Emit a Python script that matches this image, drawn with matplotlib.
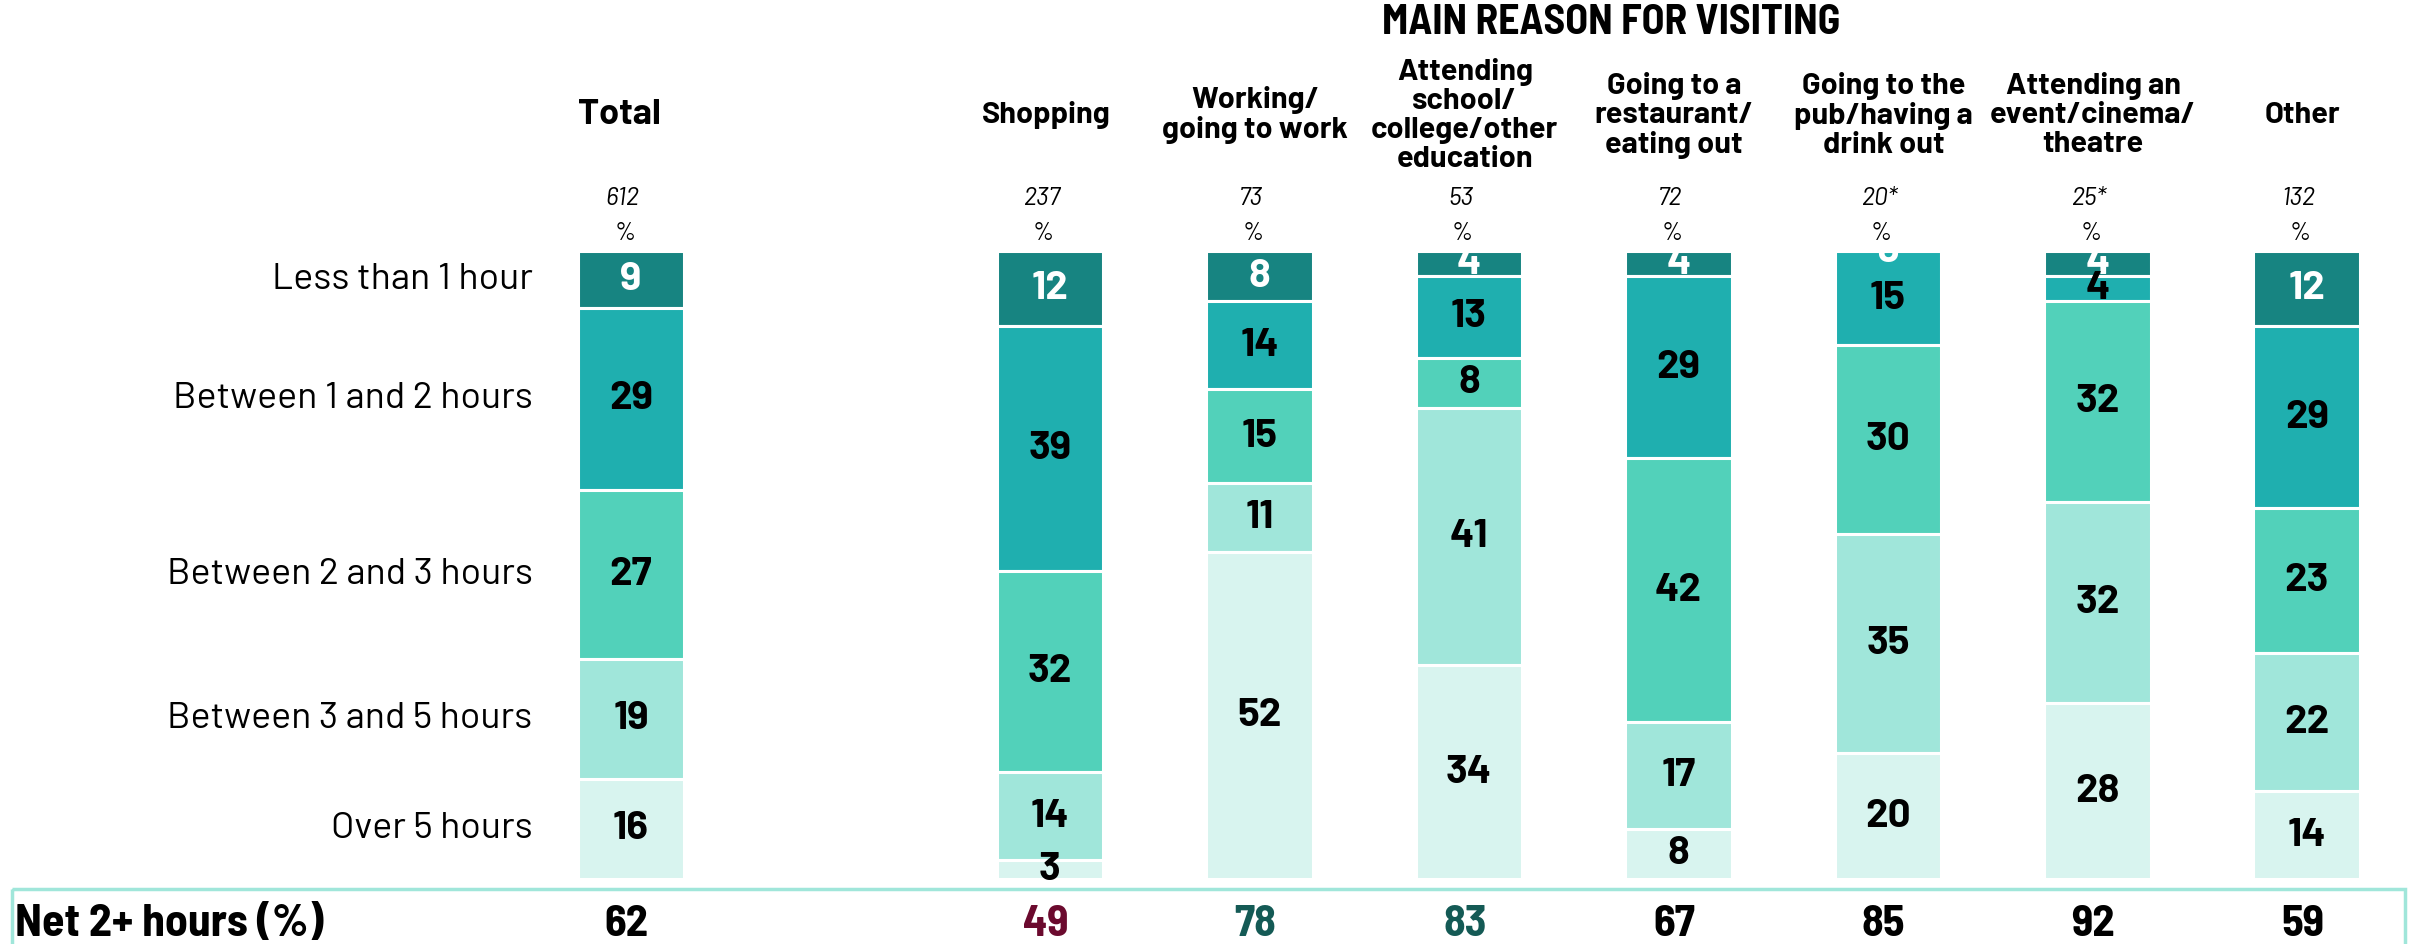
import numpy as np
import matplotlib
matplotlib.use('Agg')
import matplotlib.pyplot as plt
from matplotlib import font_manager
from matplotlib.patches import Rectangle

# data (top to bottom of each bar)
columns = ['Total', 'Shopping', 'Working/\ngoing to work', 'Attending\nschool/\ncollege/other\neducation',
           'Going to a\nrestaurant/\neating out', 'Going to the\npub/having a\ndrink out',
           'Attending an\nevent/cinema/\ntheatre', 'Other']
bases = ['612', '237', '73', '53', '72', '20*', '25*', '132']
categories = ['Less than 1 hour', 'Between 1 and 2 hours', 'Between 2 and 3 hours',
              'Between 3 and 5 hours', 'Over 5 hours']
less_1h = [9, 12, 8, 4, 4, 0, 4, 12]
h_1_2 = [29, 39, 14, 13, 29, 15, 4, 29]
h_2_3 = [27, 32, 15, 8, 42, 30, 32, 23]
h_3_5 = [19, 14, 11, 41, 17, 35, 32, 22]
over_5h = [16, 3, 52, 34, 8, 20, 28, 14]
net_2plus = [62, 49, 78, 83, 67, 85, 92, 59]
net_colors = ['black', '#6B0A2E', '#145A55', '#145A55', 'black', 'black', 'black', 'black']

series = [less_1h, h_1_2, h_2_3, h_3_5, over_5h]
seg_colors = ['#178481', '#1FAFAF', '#52D1BA', '#A0E6DA', '#D8F4EF']
txt_colors = ['white', 'black', 'black', 'black', 'black']

# pick fonts that are there
available = set(f.name for f in font_manager.fontManager.ttflist)
def pick(names):
    for name in names:
        if name in available:
            return [name, 'DejaVu Sans']
    return ['DejaVu Sans']
MAIN = pick(['Barlow', 'Barlow Semi Condensed', 'Roboto'])
NARROW = pick(['Barlow Semi Condensed', 'Barlow Condensed', 'Roboto Condensed', 'Liberation Sans Narrow'])
plt.rcParams['font.family'] = MAIN

xpos = np.array([0, 2, 3, 4, 5, 6, 7, 8])
bar_w = 0.51

fig = plt.figure(figsize=(24.15, 9.44), dpi=100)
ax = fig.add_axes([0, 0, 1, 1])
ax.set_xlim(-3.012, 8.516)
ax.set_ylim(110.35, -39.97)
ax.axis('off')

# stacked bars
bottom = np.zeros(len(xpos))
for i, vals in enumerate(series):
    vals = np.array(vals, dtype=float)
    ax.bar(xpos, vals, bar_w, bottom=bottom, color=seg_colors[i], edgecolor='white', linewidth=2.2)
    for j in range(len(xpos)):
        ax.text(xpos[j], bottom[j] + vals[j] / 2, str(int(vals[j])), ha='center', va='center',
                fontsize=29, fontweight='bold', color=txt_colors[i])
    bottom += vals

# row labels next to the Total bar
cum = 0
for i, vals in enumerate(series):
    ax.text(-0.47, cum + vals[0] / 2, categories[i], ha='right', va='center', fontsize=27)
    cum += vals[0]

# column headers, base sizes
for j in range(len(xpos)):
    if j == 0:
        ax.text(xpos[j] - bar_w / 2, -21.6, columns[j], ha='left', va='center', fontsize=26,
                fontweight='bold')
    else:
        ax.text(xpos[j] - 0.02, -21.6, columns[j], ha='center', va='center', fontsize=22,
                fontweight='bold', linespacing=1.1)
    ax.text(xpos[j] - 0.04, -8.4, bases[j], ha='center', va='center', fontsize=18, style='italic')
    ax.text(xpos[j] - 0.03, -2.8, '%', ha='center', va='center', fontsize=18)

ax.text(4.68, -36.3, 'MAIN REASON FOR VISITING', ha='center', va='center', fontsize=30,
        fontweight='bold', family=NARROW)

# net row
box = Rectangle((-2.955, 101.6), 8.47 + 2.955, 12, fill=False, edgecolor='#A0E6DA', linewidth=2.5,
                clip_on=False)
ax.add_patch(box)
ax.text(-2.94, 107.3, 'Net 2+ hours (%)', ha='left', va='center', fontsize=33, fontweight='bold',
        family=NARROW)
for j in range(len(xpos)):
    ax.text(xpos[j] - 0.02, 107.3, str(net_2plus[j]), ha='center', va='center', fontsize=32,
            fontweight='bold', color=net_colors[j], family=NARROW)

fig.savefig('out.png', dpi=100)
